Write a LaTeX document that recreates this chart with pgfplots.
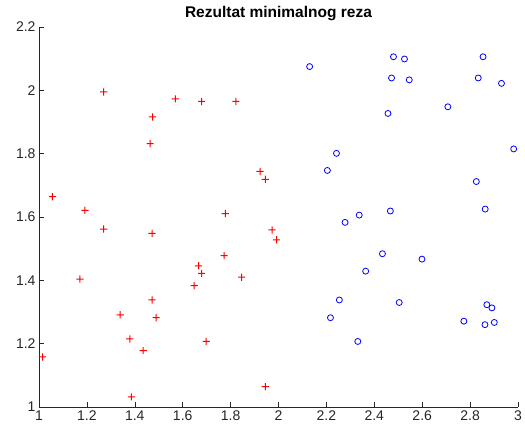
\documentclass[border=0pt]{standalone}
\usepackage{fontspec}
\setmainfont{Liberation Sans}
\usepackage{pgfplots}
\pgfplotsset{compat=1.18}
\definecolor{axgray}{rgb}{0.15,0.15,0.15}
\definecolor{mred}{rgb}{1,0,0}
\definecolor{mblue}{rgb}{0,0,1}
\pgfdeclareplotmark{plusf}{%
  \pgfpathrectangle{\pgfpoint{-\pgfplotmarksize}{-0.5pt}}{\pgfpoint{2\pgfplotmarksize}{1pt}}%
  \pgfpathrectangle{\pgfpoint{-0.5pt}{-\pgfplotmarksize}}{\pgfpoint{1pt}{2\pgfplotmarksize}}%
  \pgfusepathqfill}
\begin{document}
\begin{tikzpicture}
\begin{axis}[
  at={(0pt,0pt)}, anchor=south west,
  scale only axis, width=479pt, height=380pt,
  xmin=1, xmax=3, ymin=1, ymax=2.2,
  xtick={1,1.2,...,3}, ytick={1,1.2,...,2.2},
  axis x line=bottom, axis y line=left,
  axis line style={-, draw=axgray, line width=0.6pt},
  tick align=inside, major tick length=5pt,
  tick style={axgray, line width=0.6pt},
  /pgf/number format/assume math mode=true,
  ticklabel style={font=\fontsize{14}{16}\selectfont, text=axgray},
  title={\textbf{Rezultat minimalnog reza}},
  title style={font=\fontsize{15.5}{17}\selectfont, text=black, yshift=-3pt},
  clip=false,
]
\addplot[only marks, mark=plusf, mark size=3.6pt, color=mred, fill=mred] coordinates {
(1.056,1.664) (1.192,1.621) (1.270,1.995) (1.474,1.916) (1.464,1.832)
(1.569,1.973) (1.679,1.965) (1.822,1.965) (1.923,1.744) (1.945,1.719)
(1.778,1.611) (1.270,1.562) (1.472,1.548) (1.171,1.404) (1.773,1.478)
(1.666,1.446) (1.679,1.422) (1.648,1.383) (1.846,1.410) (1.472,1.338)
(1.339,1.291) (1.489,1.282) (1.379,1.215) (1.435,1.178) (1.698,1.207)
(1.015,1.158) (1.386,1.032) (1.945,1.064) (1.973,1.559) (1.992,1.528)
};
\addplot[only marks, mark=o, mark size=3pt, color=mblue, mark options={line width=0.8pt}] coordinates {
(2.130,2.075) (2.480,2.106) (2.526,2.099) (2.854,2.106) (2.472,2.039)
(2.546,2.033) (2.834,2.039) (2.931,2.022) (2.707,1.948) (2.457,1.927)
(2.982,1.815) (2.242,1.801) (2.204,1.747) (2.826,1.712) (2.863,1.625)
(2.467,1.619) (2.337,1.606) (2.278,1.583) (2.434,1.484) (2.599,1.467)
(2.364,1.429) (2.254,1.338) (2.504,1.330) (2.217,1.282) (2.774,1.271)
(2.870,1.323) (2.891,1.313) (2.862,1.260) (2.901,1.267) (2.331,1.207)
};
\end{axis}
\pgfresetboundingbox
\path[use as bounding box] (-39pt,-26pt) rectangle (486pt,407pt);
\end{tikzpicture}
\end{document}
